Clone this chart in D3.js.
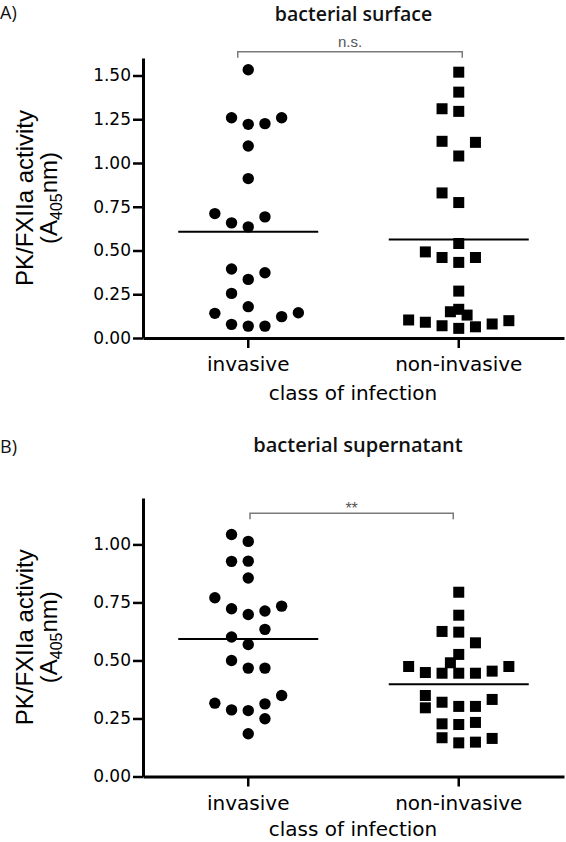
<!DOCTYPE html>
<html><head><meta charset="utf-8">
<script src="https://cdn.jsdelivr.net/npm/d3@7"></script>
<style>body{margin:0;background:#fff}svg{display:block}</style>
</head><body>
<svg id="chart" width="566" height="842"></svg>
<script>
// ---------- data ----------
const categories = ["invasive", "non-invasive"];

// Panel A – bacterial surface
const surfaceInvasive = [1.533,1.259,1.221,1.225,1.259,1.097,0.911,0.711,0.658,0.635,0.692,0.394,0.373,0.335,0.255,0.179,0.141,0.144,0.122,0.078,0.068,0.068];
const surfaceInvasiveColumn = [0,-1,0,1,2,0,0,-2,-1,0,1,-1,1,0,-1,0,-2,3,2,-1,0,1];
const surfaceNonInvasive = [1.519,1.405,1.310,1.295,1.124,1.118,1.040,0.829,0.774,0.540,0.492,0.460,0.432,0.460,0.268,0.150,0.164,0.131,0.103,0.090,0.070,0.055,0.064,0.080,0.099];
const surfaceNonInvasiveColumn = [0,0,-1,0,-1,1,0,-1,0,0,-2,-1,0,1,0,-0.5,0,0.5,-3,-2,-1,0,1,2,3];

// Panel B – bacterial supernatant
const supernatantInvasive = [1.043,1.013,0.927,0.928,0.855,0.770,0.723,0.698,0.713,0.734,0.634,0.601,0.569,0.500,0.467,0.467,0.316,0.287,0.284,0.313,0.349,0.249,0.184];
const supernatantInvasiveColumn = [-1,0,-1,0,0,-2,-1,0,1,2,1,-1,0,-1,0,1,-2,-1,0,1,2,1,0];
const supernatantNonInvasive = [0.794,0.695,0.625,0.622,0.576,0.526,0.490,0.474,0.448,0.445,0.445,0.445,0.454,0.474,0.349,0.296,0.320,0.302,0.302,0.332,0.227,0.224,0.233,0.167,0.145,0.148,0.164];
const supernatantNonInvasiveColumn = [0,0,-1,0,1,0,-0.5,-3,-2,-1,0,1,2,3,-2,-2,-1,0,1,2,-1,0,1,-1,0,1,2];

const surfaceTicks = [0, 0.25, 0.5, 0.75, 1.0, 1.25, 1.5];
const supernatantTicks = [0, 0.25, 0.5, 0.75, 1.0];

const panels = [
  { tag: "A)", title: "bacterial surface", sig: "n.s.", yMax: 1.6, ticks: surfaceTicks,
    top: 58, bottom: 338, tagY: 19, titleX: 353.5, titleY: 21, titleSize: 19.5, xTitleOff: 62,
    bracketY: 51.7, bracketL: -10.5, bracketR: 3.5,
    series: [
      { cat: categories[0], values: surfaceInvasive, cols: surfaceInvasiveColumn, shape: "circle" },
      { cat: categories[1], values: surfaceNonInvasive, cols: surfaceNonInvasiveColumn, shape: "square" }
    ] },
  { tag: "B)", title: "bacterial supernatant", sig: "**", yMax: 1.2, ticks: supernatantTicks,
    top: 498, bottom: 776.5, tagY: 453, titleX: 358, titleY: 452, titleSize: 20, xTitleOff: 59.5,
    bracketY: 513.3, bracketL: 1.75, bracketR: -5.5,
    series: [
      { cat: categories[0], values: supernatantInvasive, cols: supernatantInvasiveColumn, shape: "circle" },
      { cat: categories[1], values: supernatantNonInvasive, cols: supernatantNonInvasiveColumn, shape: "square" }
    ] }
];

// ---------- drawing ----------
const svg = d3.select("#chart");
const axisX0 = 143, axisX1 = 564;
const x = d3.scaleBand().domain(categories).range([axisX0, axisX1]);
const colStep = d3.scaleLinear().domain([0, 1]).range([0, 16.7]);
const sansTick = "'DejaVu Sans', Verdana, sans-serif";
const arial = "'Liberation Sans', Arial, sans-serif";
const titleFont = "'Open Sans', sans-serif";

panels.forEach(p => {
  const g = svg.append("g");
  const y = d3.scaleLinear().domain([0, p.yMax]).range([p.bottom, p.top]);

  // panel tag & title
  g.append("text").attr("x", 0).attr("y", p.tagY).text(p.tag)
    .attr("font-family", titleFont).attr("font-size", 18).attr("font-weight", 400).attr("fill", "#111");
  g.append("text").attr("x", p.titleX).attr("y", p.titleY).attr("text-anchor", "middle").text(p.title)
    .attr("font-family", titleFont).attr("font-size", p.titleSize).attr("font-weight", 600).attr("fill", "#111");

  // y axis
  const yAxis = g.append("g").attr("transform", `translate(${axisX0},0)`)
    .call(d3.axisLeft(y).tickValues(p.ticks).tickFormat(d3.format(".2f")).tickSize(10).tickSizeOuter(0).tickPadding(2));
  yAxis.select(".domain").attr("stroke", "#000").attr("stroke-width", 3);
  yAxis.selectAll(".tick line").attr("stroke", "#000").attr("stroke-width", 2.5);
  yAxis.selectAll(".tick text").attr("font-family", sansTick).attr("font-size", 17).attr("fill", "#000");

  // x axis
  const xAxis = g.append("g").attr("transform", `translate(0,${p.bottom})`)
    .call(d3.axisBottom(x).tickSize(10).tickSizeOuter(0).tickPadding(8));
  xAxis.select(".domain").attr("stroke", "#000").attr("stroke-width", 3);
  xAxis.selectAll(".tick line").attr("stroke", "#000").attr("stroke-width", 2.5);
  xAxis.selectAll(".tick text").attr("font-family", sansTick).attr("font-size", 20).attr("fill", "#000")
    .attr("y", 33).attr("dy", 0);

  // x title
  g.append("text").attr("x", 353).attr("y", p.bottom + p.xTitleOff).attr("text-anchor", "middle")
    .attr("font-family", sansTick).attr("font-size", 20).attr("fill", "#000").text("class of infection");

  // y title (two lines, rotated)
  const cy = (p.top + p.bottom) / 2;
  g.append("text").attr("transform", `translate(33,${cy}) rotate(-90)`).attr("text-anchor", "middle")
    .attr("font-family", arial).attr("font-size", 24).attr("fill", "#000").text("PK/FXIIa activity");
  const t2 = g.append("text").attr("transform", `translate(57,${cy}) rotate(-90)`).attr("text-anchor", "middle")
    .attr("font-family", arial).attr("font-size", 24).attr("fill", "#000");
  t2.append("tspan").text("(A");
  t2.append("tspan").attr("font-size", 16).attr("dy", 5).text("405");
  t2.append("tspan").attr("dy", -5).text("nm)");

  // significance bracket
  const bx0 = x(categories[0]) + x.bandwidth() / 2 + p.bracketL;
  const bx1 = x(categories[1]) + x.bandwidth() / 2 + p.bracketR;
  g.append("path")
    .attr("d", `M${bx0},${p.bracketY + 6}V${p.bracketY}H${bx1}V${p.bracketY + 6}`)
    .attr("fill", "none").attr("stroke", "#7a7a7a").attr("stroke-width", 1.5);
  g.append("text").attr("x", (bx0 + bx1) / 2).attr("y", p.sig === "**" ? p.bracketY + 1 : p.bracketY - 5)
    .attr("text-anchor", "middle").attr("font-family", arial)
    .attr("font-size", p.sig === "**" ? 16 : 15).attr("fill", "#555").text(p.sig);

  // points & mean lines
  p.series.forEach(s => {
    const cx = x(s.cat) + x.bandwidth() / 2;
    const data = s.values.map((v, i) => ({ v, c: s.cols[i] }));
    if (s.shape === "circle") {
      g.selectAll(null).data(data).enter().append("circle")
        .attr("cx", d => cx + colStep(d.c)).attr("cy", d => y(d.v)).attr("r", 5.7).attr("fill", "#000");
    } else {
      const side = 11;
      g.selectAll(null).data(data).enter().append("rect")
        .attr("x", d => cx + colStep(d.c) - side / 2).attr("y", d => y(d.v) - side / 2)
        .attr("width", side).attr("height", side).attr("fill", "#000");
    }
    const m = d3.mean(s.values);
    g.append("line").attr("x1", cx - 70).attr("x2", cx + 70).attr("y1", y(m)).attr("y2", y(m))
      .attr("stroke", "#000").attr("stroke-width", 2);
  });
});
</script>
</body></html>
